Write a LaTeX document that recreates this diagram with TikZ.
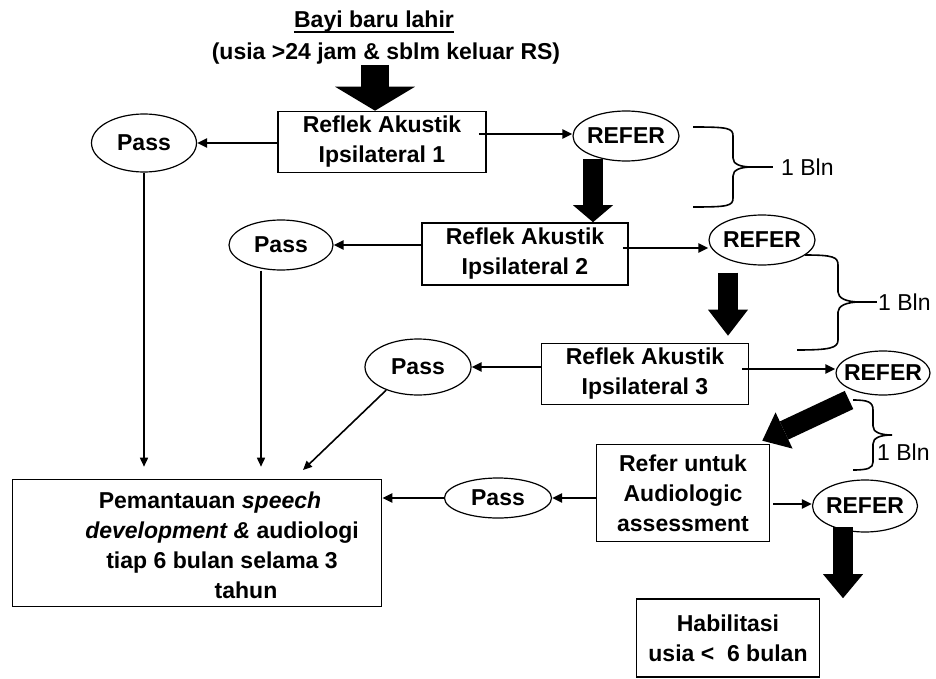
\documentclass[tikz,border=0pt]{standalone}
\usepackage{fontspec}
\setmainfont{Liberation Sans}
\usetikzlibrary{arrows.meta,shapes.geometric}

\begin{document}
\begin{tikzpicture}[x=1pt, y=-1pt,
        font=\fontsize{23}{30}\selectfont\bfseries,
        kotak/.style={draw, line width=1.6pt, align=center, inner sep=0pt},
        elips/.style={ellipse, draw, line width=1.2pt, inner sep=0pt},
        panah/.style={-{Triangle[length=10pt,width=9pt]}, line width=2.2pt},
        garis/.style={-{Triangle[length=9pt,width=8pt]}, line width=1.6pt},
        kurung/.style={line width=1.6pt},
        gemuk/.style={line width=20pt,
                -{Triangle[length=24pt,width=40pt,line width=0pt]}}]
    \useasboundingbox (0,0) rectangle (936,679);

    % judul
    \node[inner sep=0pt, anchor=base] (bayi) at (374,28) {Bayi baru lahir};
    \draw[line width=1.8pt] ([yshift=-4pt]bayi.base west) -- ([yshift=-4pt]bayi.base east);
    \node[inner sep=0pt, anchor=base] (usia) at (386,60) {(usia >24 jam \& sblm keluar RS)};

    % kotak
    \node[kotak, minimum width=208pt, minimum height=61pt] (ra1) at (382,142) {Reflek Akustik\\Ipsilateral 1};
    \node[kotak, minimum width=206pt, minimum height=62pt] (ra2) at (525,254) {Reflek Akustik\\Ipsilateral 2};
    \node[kotak, minimum width=207pt, minimum height=61pt] (ra3) at (645,374) {Reflek Akustik\\Ipsilateral 3};
    \node[kotak, minimum width=173pt, minimum height=97pt] (aud) at (683,493) {Refer untuk\\Audiologic\\assessment};
    \node[kotak, minimum width=369pt, minimum height=127pt] (pantau) at (197,543) {};
    \node[align=center, inner sep=0pt] (teks) at (222,545) {Pemantauan \textit{speech}\hspace*{24pt}\\\textit{development \&} audiologi\\tiap 6 bulan selama 3\\\hspace*{48pt}tahun};
    \node[kotak, minimum width=183pt, minimum height=78pt] (habil) at (728,638) {Habilitasi\\usia <~~6 bulan};

    % elips
    \node[elips, minimum width=105pt, minimum height=58pt] (pass1) at (144,143) {\makebox[0pt]{Pass}};
    \node[elips, minimum width=104pt, minimum height=50pt] (pass2) at (281,245) {\makebox[0pt]{Pass}};
    \node[elips, minimum width=106pt, minimum height=56pt] (pass3) at (418,367) {\makebox[0pt]{Pass}};
    \node[elips, minimum width=107pt, minimum height=40pt] (pass4) at (498,498) {\makebox[0pt]{Pass}};
    \node[elips, minimum width=106pt, minimum height=50pt] (ref1) at (626,136) {\makebox[0pt]{REFER}};
    \node[elips, minimum width=106pt, minimum height=50pt] (ref2) at (762,240) {\makebox[0pt]{REFER}};
    \node[elips, minimum width=94pt, minimum height=44pt] (ref3) at (883,373) {\makebox[0pt]{REFER}};
    \node[elips, minimum width=105pt, minimum height=52pt] (ref4) at (865,506) {\makebox[0pt]{REFER}};

    \coordinate (p3) at (303,470);

    % panah tipis
    \foreach \a/\b in {ra1/pass1, ra2/pass2, ra3/pass3, aud/pass4} {
            \draw[panah] (\a.west |- \b.east) -- (\b.east);
        }
    \foreach \a/\b/\dx/\dy in {ra1/ref1/-8/8, ra2/ref2/-6/6, ra3/ref3/-7/5, aud/ref4/3/-11} {
            \draw[panah] ([xshift=\dx pt, yshift=\dy pt]\a.east) -- ([yshift=\dy pt]\a.east -| \b.west);
        }
    \draw[panah] (pass4.west) -- (pass4.west -| pantau.east);
    \draw[garis, shorten >=12pt] (pass1.south) -- (pass1.south |- pantau.north);
    \draw[garis, shorten >=12pt] ([xshift=-20pt]pass2.south) -- ([xshift=-20pt]pass2.south |- pantau.north);
    \draw[garis] (pass3.216) -- (p3);

    % panah besar
    \draw[gemuk, line width=28pt, -{Triangle[length=24pt,width=80pt,line width=0pt]}]
        ([xshift=-7pt]ra1.north |- usia.south) -- ([xshift=-7pt]ra1.north);
    \draw[gemuk, -{Triangle[length=17pt,width=40pt,line width=0pt]}]
        ([xshift=-33pt, yshift=3pt]ref1.south) -- ([xshift=-33pt]ref1.south |- ra2.north);
    \draw[gemuk, shorten >=7pt, -{Triangle[length=26pt,width=40pt,line width=0pt]}]
        ([xshift=-34pt, yshift=-7pt]ref2.south) -- ([xshift=-34pt]ref2.south |- ra3.north);
    \draw[gemuk] ([xshift=-34pt, yshift=-27pt]ref3.center) -- ([xshift=-8pt, yshift=3pt]aud.north east);
    \draw[gemuk] ([xshift=-22pt, yshift=-21pt]ref4.center) -- ([xshift=-22pt]ref4.center |- habil.north);

    % kurung 1 bulan
    \draw[kurung] (693,127) .. controls (728,127) and (733,128) .. (733,136) -- (733,158)
        .. controls (733,164) and (740,167) .. (752,167) .. controls (740,167) and (733,170) .. (733,176)
        -- (733,198) .. controls (733,206) and (728,207) .. (693,207);
    \draw[kurung] (752,167) -- (773,167);
    \draw[kurung] (805,255) .. controls (833,255) and (838,257) .. (838,265) -- (838,292)
        .. controls (838,298) and (846,302) .. (860,302) .. controls (846,302) and (838,306) .. (838,312)
        -- (838,340) .. controls (838,348) and (830,350) .. (797,350);
    \draw[kurung] (860,302) -- (877,302);
    \draw[kurung] (853,400) .. controls (868,400) and (873,402) .. (873,410) -- (873,426)
        .. controls (873,432) and (880,435) .. (892,435) .. controls (880,435) and (873,438) .. (873,444)
        -- (873,462) .. controls (873,468) and (868,470) .. (853,470);

    \node[anchor=west, inner sep=0pt, font=\fontsize{23}{30}\selectfont\mdseries] (bln1) at (781,167) {1 Bln};
    \node[anchor=west, inner sep=0pt, font=\fontsize{23}{30}\selectfont\mdseries] (bln2) at (878,302) {1 Bln};
    \node[anchor=west, inner sep=0pt, font=\fontsize{23}{30}\selectfont\mdseries] (bln3) at (877,452) {1 Bln};
\end{tikzpicture}
\end{document}
